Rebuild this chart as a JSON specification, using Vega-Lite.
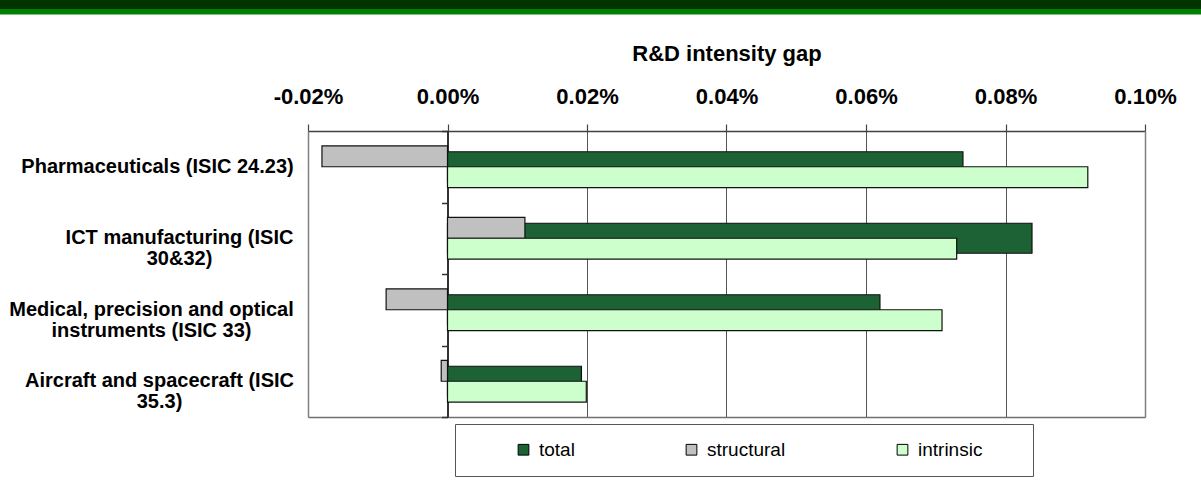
{
  "$schema": "https://vega.github.io/schema/vega-lite/v6.json",
  "padding": 0,
  "background": "white",
  "spacing": 27,
  "config": {
    "font": "Liberation Sans",
    "view": {"stroke": null}
  },
  "datasets": {
    "gaps": [
      {"industry": "Pharmaceuticals (ISIC 24.23)", "series": "total", "gap": 0.0739},
      {"industry": "Pharmaceuticals (ISIC 24.23)", "series": "structural", "gap": -0.0180},
      {"industry": "Pharmaceuticals (ISIC 24.23)", "series": "intrinsic", "gap": 0.0918},
      {"industry": "ICT manufacturing (ISIC 30&32)", "series": "total", "gap": 0.0838},
      {"industry": "ICT manufacturing (ISIC 30&32)", "series": "structural", "gap": 0.0111},
      {"industry": "ICT manufacturing (ISIC 30&32)", "series": "intrinsic", "gap": 0.0730},
      {"industry": "Medical, precision and optical instruments (ISIC 33)", "series": "total", "gap": 0.0620},
      {"industry": "Medical, precision and optical instruments (ISIC 33)", "series": "structural", "gap": -0.0088},
      {"industry": "Medical, precision and optical instruments (ISIC 33)", "series": "intrinsic", "gap": 0.0709},
      {"industry": "Aircraft and spacecraft (ISIC 35.3)", "series": "total", "gap": 0.0192},
      {"industry": "Aircraft and spacecraft (ISIC 35.3)", "series": "structural", "gap": -0.0009},
      {"industry": "Aircraft and spacecraft (ISIC 35.3)", "series": "intrinsic", "gap": 0.0199}
    ],
    "empty": []
  },
  "resolve": {"scale": {"color": "independent"}, "legend": {"color": "independent"}},
  "vconcat": [
    {
      "spacing": 0,
      "vconcat": [
        {
          "width": 1201,
          "height": 9,
          "data": {"name": "empty"},
          "mark": "rect",
          "view": {"fill": "#003300", "stroke": null}
        },
        {
          "width": 1201,
          "height": 5.5,
          "data": {"name": "empty"},
          "mark": "rect",
          "view": {"fill": "#008000", "stroke": null}
        }
      ]
    },
    {
      "width": 1145,
      "height": 286,
      "data": {"name": "gaps"},
      "encoding": {
        "color": {
          "field": "series",
          "type": "nominal",
          "scale": {
            "domain": ["total", "structural", "intrinsic"],
            "range": ["#1d6234", "#c0c0c0", "#ccffcc"]
          },
          "legend": {
            "orient": "none",
            "legendX": 455,
            "legendY": 293,
            "direction": "horizontal",
            "title": "\u00a0",
            "titleOrient": "right",
            "titlePadding": 35,
            "strokeColor": "#555555",
            "fillColor": "#ffffff",
            "padding": 16,
            "labelFontSize": 19,
            "labelColor": "#000000",
            "symbolType": "square",
            "symbolSize": 115,
            "symbolOffset": 43,
            "labelOffset": 6,
            "columnPadding": 64,
            "symbolStrokeColor": "#000000",
            "symbolStrokeWidth": 1
          }
        }
      },
      "layer": [
        {
          "transform": [{"filter": "datum.series == 'total'"}],
          "mark": {"type": "bar", "height": {"band": 0.42}, "stroke": "#111111", "strokeWidth": 1.2},
          "encoding": {
            "x": {
              "field": "gap",
              "type": "quantitative",
              "scale": {"domain": [-0.02, 0.1], "range": [308, 1145], "nice": false, "zero": false},
              "axis": {
                "orient": "top",
                "values": [-0.02, 0, 0.02, 0.04, 0.06, 0.08, 0.1],
                "labelExpr": "(datum.value < -0.000001 ? '-' : '') + format(abs(datum.value), '.2f') + '%'",
                "labelFontSize": 22,
                "labelFontWeight": "bold",
                "labelColor": "#000000",
                "labelPadding": 16,
                "labelFlush": false,
                "labelOverlap": false,
                "tickSize": 7,
                "tickColor": "#444444",
                "tickWidth": 1.2,
                "domainColor": "#404040",
                "domainWidth": 1.5,
                "grid": true,
                "gridColor": "#555555",
                "gridWidth": 1,
                "title": "R&D intensity gap",
                "titleFontSize": 22,
                "titleFontWeight": "bold",
                "titleColor": "#000000",
                "titleY": -71,
                "titleBaseline": "alphabetic"
              }
            },
            "y": {
              "field": "industry",
              "type": "nominal",
              "sort": null,
              "scale": {"paddingInner": 0, "paddingOuter": 0},
              "axis": {
                "orient": "left",
                "offset": -308,
                "title": null,
                "domain": true,
                "domainColor": "#808080",
                "domainWidth": 1.5,
                "ticks": false,
                "tickSize": 0,
                "grid": false,
                "labelFontSize": 20,
                "labelFontWeight": "bold",
                "labelColor": "#000000",
                "labelAlign": "center",
                "labelBaseline": "middle",
                "labelLineHeight": 21,
                "labelLimit": 0,
                "labelExpr": "datum.value == 'ICT manufacturing (ISIC 30&32)' ? ['ICT manufacturing (ISIC', '30&32)'] : datum.value == 'Medical, precision and optical instruments (ISIC 33)' ? ['Medical, precision and optical', 'instruments (ISIC 33)'] : datum.value == 'Aircraft and spacecraft (ISIC 35.3)' ? ['Aircraft and spacecraft (ISIC', '35.3)'] : datum.value",
                "labelPadding": {
                  "condition": [
                    {"test": "datum.value == 'ICT manufacturing (ISIC 30&32)'", "value": 129},
                    {"test": "datum.value == 'Medical, precision and optical instruments (ISIC 33)'", "value": 157},
                    {"test": "datum.value == 'Aircraft and spacecraft (ISIC 35.3)'", "value": 149}
                  ],
                  "value": 151
                }
              }
            }
          }
        },
        {
          "transform": [{"filter": "datum.series != 'total'"}],
          "mark": {"type": "bar", "stroke": "#111111", "strokeWidth": 1.2},
          "encoding": {
            "x": {
              "field": "gap",
              "type": "quantitative",
              "scale": {"domain": [-0.02, 0.1], "range": [308, 1145], "nice": false, "zero": false},
              "axis": {
                "orient": "bottom",
                "labels": false,
                "ticks": false,
                "grid": false,
                "title": null,
                "domain": true,
                "domainColor": "#707070",
                "domainWidth": 1.5
              }
            },
            "y": {
              "field": "industry",
              "type": "nominal",
              "sort": null,
              "scale": {"paddingInner": 0, "paddingOuter": 0},
              "axis": {
                "orient": "left",
                "offset": -447.5,
                "title": null,
                "labels": false,
                "ticks": true,
                "tickBand": "extent",
                "tickSize": 6,
                "tickColor": "#333333",
                "tickWidth": 1.5,
                "domain": true,
                "domainColor": "#333333",
                "domainWidth": 2,
                "grid": false
              }
            },
            "yOffset": {
              "field": "series",
              "type": "nominal",
              "scale": {"domain": ["structural", "intrinsic"], "paddingInner": 0, "paddingOuter": 0.715}
            }
          }
        },
        {
          "transform": [{"filter": "false"}],
          "mark": {"type": "bar"},
          "encoding": {
            "y": {
              "field": "industry",
              "type": "nominal",
              "sort": null,
              "scale": {"paddingInner": 0, "paddingOuter": 0},
              "axis": {
                "orient": "right",
                "title": null,
                "labels": false,
                "ticks": false,
                "grid": false,
                "domain": true,
                "domainColor": "#808080",
                "domainWidth": 1.5
              }
            },
            "x": {
              "field": "gap",
              "type": "quantitative",
              "scale": {"domain": [-0.02, 0.1], "range": [308, 1145], "nice": false, "zero": false},
              "axis": null
            }
          }
        }
      ],
      "resolve": {"axis": {"y": "independent", "x": "independent"}, "scale": {"y": "shared", "x": "shared"}}
    }
  ]
}
